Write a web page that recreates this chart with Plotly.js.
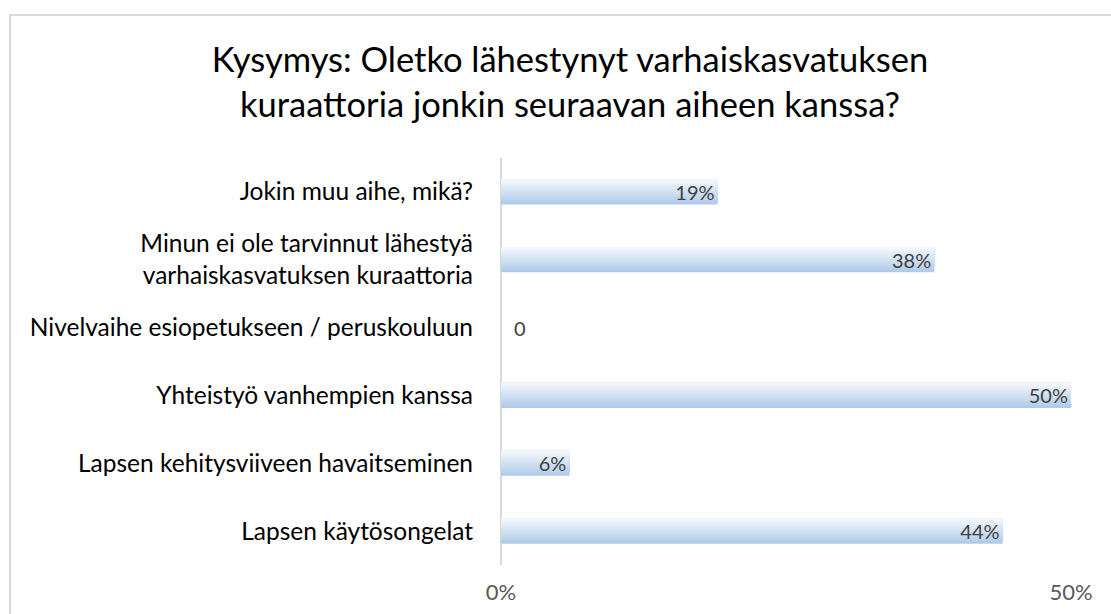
<!DOCTYPE html>
<html>
<head>
<meta charset="utf-8">
<script src="https://cdn.plot.ly/plotly-3.0.1.min.js"></script>
<style>
  html, body { margin: 0; padding: 0; background: #fff; overflow: hidden; }
  #chart { position: absolute; left: 0; top: 0; width: 1111px; height: 614px; }
  #frame { position: absolute; left: 9px; top: 14px; width: 1300px; height: 800px;
           border-left: 2px solid #d9d9d9; border-top: 2px solid #d9d9d9; pointer-events: none; }
</style>
</head>
<body>
<div id="chart"></div>
<div id="frame"></div>
<script>
// Categories, bottom to top as drawn
const categories = [
  "Lapsen käytösongelat",
  "Lapsen kehitysviiveen havaitseminen",
  "Yhteistyö vanhempien kanssa",
  "Nivelvaihe esiopetukseen / peruskouluun",
  "Minun ei ole tarvinnut lähestyä<br>varhaiskasvatuksen kuraattoria",
  "Jokin muu aihe, mikä?"
];
const values = [0.44, 0.06, 0.50, 0, 0.38, 0.19];
const tickValues = [0, 0.5];
const tickLabels = ["0%", "50%"];

const labels = values.map(v => v === 0 ? "\u20020" : Math.round(v * 100) + "%");
const textPos = values.map(v => v === 0 ? "outside" : "inside");

const FONT = "Lato, 'Open Sans', sans-serif";

// gradient simulated with overlaid slices (bottom dark -> top light)
const N = 14;
const W = 0.37;
const c0 = [176, 203, 232];  // bottom
const c1 = [243, 247, 252];  // top
const traces = [];
for (let i = 0; i < N; i++) {
  const t = i / (N - 1);
  const c = c0.map((a, k) => Math.round(a + (c1[k] - a) * t));
  traces.push({
    type: "bar", orientation: "h",
    y: categories, x: values,
    width: W - i * W / N,
    offset: -W / 2 + i * W / N,
    marker: { color: `rgb(${c[0]},${c[1]},${c[2]})`, line: { width: 0 } },
    hoverinfo: "skip", showlegend: false
  });
}
traces.push({
  type: "bar", orientation: "h",
  y: categories, x: values,
  width: W, offset: -W / 2,
  marker: { color: "rgba(0,0,0,0)", line: { width: 0 } },
  text: labels, textposition: textPos, insidetextanchor: "end",
  constraintext: "none",
  textfont: { family: FONT, size: 20, color: "#404040" },
  outsidetextfont: { family: FONT, size: 20, color: "#404040" },
  cliponaxis: false,
  hoverinfo: "skip", showlegend: false
});

const layout = {
  width: 1111, height: 614,
  paper_bgcolor: "#ffffff", plot_bgcolor: "#ffffff",
  margin: { l: 501, r: 40, t: 158, b: 49 },
  barmode: "overlay",
  showlegend: false,
  hovermode: false,
  font: { family: FONT, color: "#000" },
  title: {
    text: "Kysymys: Oletko lähestynyt varhaiskasvatuksen<br>kuraattoria jonkin seuraavan aiheen kanssa?",
    font: { family: FONT, size: 34.5, color: "#000" },
    x: 0.513, xanchor: "center", xref: "container",
    y: 0.883, yanchor: "top", yref: "container"
  },
  xaxis: {
    range: [0, 0.5],
    tickvals: tickValues, ticktext: tickLabels,
    showgrid: true, gridcolor: "#d9d9d9", gridwidth: 2,
    zeroline: true, zerolinecolor: "#d9d9d9", zerolinewidth: 2,
    showline: false, ticks: "",
    ticklabelstandoff: 12,
    tickfont: { family: FONT, size: 22, color: "#595959" },
    fixedrange: true
  },
  yaxis: {
    type: "category",
    categoryorder: "array", categoryarray: categories,
    showgrid: false, zeroline: false, showline: false, ticks: "",
    ticklabelstandoff: 27,
    tickfont: { family: FONT, size: 24.5, color: "#000" },
    fixedrange: true
  }
};

Plotly.newPlot("chart", traces, layout, { displayModeBar: false, staticPlot: true });
</script>
</body>
</html>
